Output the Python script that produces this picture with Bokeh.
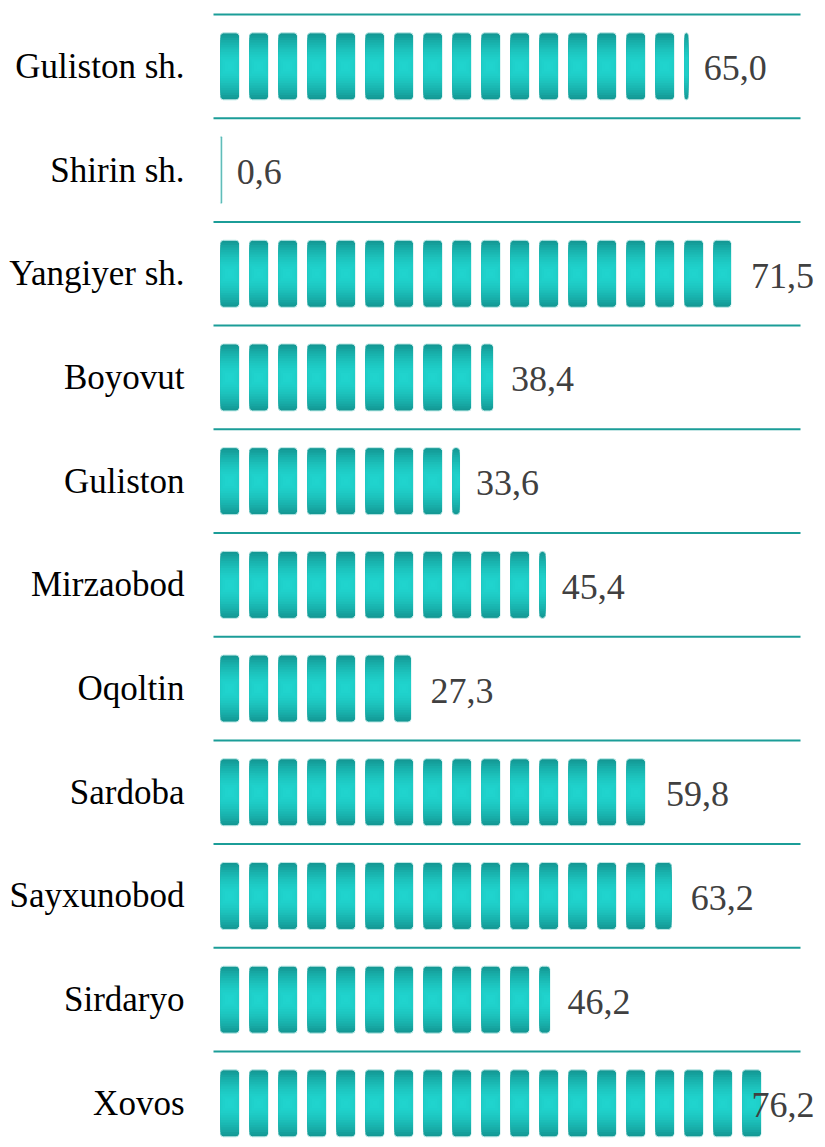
import math
from bokeh.plotting import figure
from bokeh.models import Range1d, ColumnDataSource
from bokeh.core.properties import value
from bokeh.embed import file_html
from bokeh.resources import INLINE

# ---- data ----
categories = ["Guliston sh.", "Shirin sh.", "Yangiyer sh.", "Boyovut", "Guliston",
              "Mirzaobod", "Oqoltin", "Sardoba", "Sayxunobod", "Sirdaryo", "Xovos"]
values = [65.0, 0.6, 71.5, 38.4, 33.6, 45.4, 27.3, 59.8, 63.2, 46.2, 76.2]
unit_per_symbol = 4.0

# ---- geometry (pixels -> data) ----
W, H = 817, 1139
PX_X = 7.25          # px per value unit
ROW_PX = 103.7       # px per row
zero_px = 220        # x of value 0 inside the figure
top_px = 14          # first row boundary inside the figure

x0 = -zero_px / PX_X
x1 = (W - zero_px) / PX_X
y_top = -top_px / ROW_PX
y_bot = (H - top_px) / ROW_PX

p = figure(width=W, height=H, output_backend="svg", toolbar_location=None,
           x_range=Range1d(x0, x1), y_range=Range1d(y_bot, y_top),
           min_border=0, outline_line_color=None, background_fill_color="white",
           border_fill_color="white")
p.axis.visible = False
p.grid.visible = False

n = len(categories)
centers = [i + 0.5 for i in range(n)]

# row separator lines
bounds = list(range(n + 1))
p.segment(x0=[-7 / PX_X] * len(bounds), x1=[(800 - 220) / PX_X] * len(bounds),
          y0=bounds, y1=bounds, line_color="#1b9d98", line_width=2)

# pictograph symbols: image slot 22px wide, symbol body 18.5px inside it
slot_px = 22.0
pad_px = 1.75
sym_px = 18.5
edge = (0x14, 0x98, 0x94)
mid = (0x20, 0xd4, 0xce)
half_h_px = 33.5
half_w_px = sym_px / 2
N = 14
layers = []
for j in range(N):
    r = half_h_px * (1 - j / N)
    t = j / (N - 1)
    t = 1 - (1 - t) ** 1.6
    col = tuple(int(round(edge[k] + (mid[k] - edge[k]) * t)) for k in range(3))
    layers.append((r, "#%02x%02x%02x" % col))

pitch_px = unit_per_symbol * PX_X
for li, (r, col) in enumerate(layers):
    lefts, rights, ys, hs = [], [], [], []
    hw = min(half_w_px, r)
    hh = min(half_h_px, r) / ROW_PX
    for i, v in enumerate(values):
        nseg = math.ceil(v / unit_per_symbol)
        for k in range(nseg):
            frac = min(1.0, (v - k * unit_per_symbol) / unit_per_symbol)
            slot_l = k * pitch_px - pad_px
            clip = slot_l + frac * slot_px
            cx = slot_l + pad_px + sym_px / 2
            l = cx - hw
            rr = min(cx + hw, clip)
            if rr <= l:
                continue
            # very thin slivers at the rounded edge look pale
            thin = (rr - l) < 2.5
            if thin and li > 0:
                continue
            lefts.append(l / PX_X); rights.append(rr / PX_X)
            ys.append(centers[i]); hs.append(2 * hh)
    src = ColumnDataSource(dict(left=lefts, right=rights, y=ys, height=hs))
    kw = {}
    if li == 0:
        kw["border_radius"] = 3
        kw["line_color"] = "#bfe9e7"
        kw["line_width"] = 1
    else:
        kw["line_color"] = None
    p.hbar(y="y", left="left", right="right", height="height", source=src,
           fill_color=col, **kw)

FONT = value("Liberation Serif")

# category labels
p.text(x=[-36 / PX_X] * n, y=centers, text=categories, text_align="right",
       text_baseline="middle", text_font=FONT,
       text_font_size="35px", text_color="#000000")

# value labels
labels = [f"{v:.1f}".replace(".", ",") for v in values]
limit = (814 - 220) / PX_X
lx, la = [], []
for v, s in zip(values, labels):
    wunits = (sum(0.25 if c == "," else 0.5 for c in s) * 36) / PX_X
    x = v + 12 / PX_X
    if x + wunits > limit:
        lx.append(limit); la.append("right")
    else:
        lx.append(x); la.append("left")
p.text(x=lx, y=[c + 2 / ROW_PX for c in centers], text=labels, text_align=la,
       text_baseline="middle", text_font=FONT,
       text_font_size="36px", text_color="#404040")

open("out.html", "w").write(file_html(p, INLINE))
